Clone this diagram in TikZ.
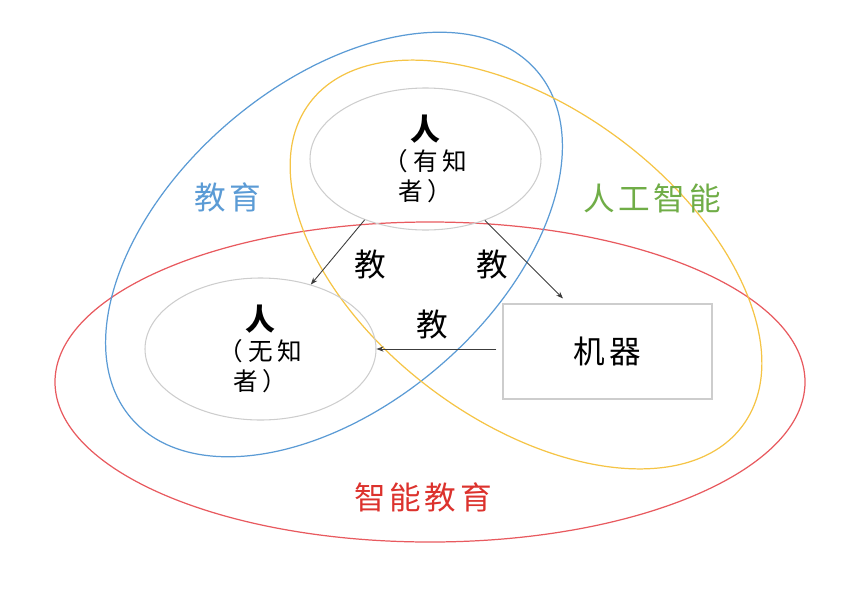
\documentclass[tikz,border=0pt]{standalone}
\usepackage{fontspec}
\usepackage{tikz}
\usetikzlibrary{shapes.geometric,arrows.meta,positioning,calc}
\newfontfamily\cjktag[LetterSpace=12]{Noto Sans CJK SC}
\newfontfamily\cjkloose[LetterSpace=20]{Noto Sans CJK SC}
\definecolor{edublue}{RGB}{91,155,213}
\definecolor{aigold}{RGB}{245,196,70}
\definecolor{smartred}{RGB}{232,90,95}
\definecolor{smarttext}{RGB}{220,50,45}
\definecolor{aigreen}{RGB}{112,173,71}
\definecolor{ringgray}{RGB}{205,205,205}
\definecolor{arrowgray}{RGB}{60,60,60}

\begin{document}
\begin{tikzpicture}[
    zone/.style={line width=0.7pt},
    bubble/.style={draw=ringgray,ellipse,line width=0.6pt,
                minimum width=4.62cm,minimum height=2.84cm,inner sep=0pt,
                align=center,font=\cjkloose\fontsize{14}{17}\selectfont},
    machine/.style={draw=ringgray,line width=0.6pt,
                minimum width=4.18cm,minimum height=1.9cm,
                font=\cjktag\fontsize{18}{20}\selectfont},
    arr/.style={-{Stealth[length=4pt,width=3pt]},line width=0.5pt,color=arrowgray},
    tag/.style={font=\cjktag\fontsize{18}{20}\selectfont}
  ]
    \useasboundingbox (0,0) rectangle (17.3,12.08);
    % the three fields
    \draw[zone,smartred] (8.6,4.44) ellipse [x radius=7.5cm,y radius=3.2cm];
    \draw[zone,edublue,rotate around={40.5:(6.68,7.19)}] (6.68,7.19)
        ellipse [x radius=5.34cm,y radius=3.22cm];
    \draw[zone,aigold,rotate around={-36.7:(10.52,6.79)}] (10.52,6.79)
        ellipse [x radius=5.4cm,y radius=3.13cm];
    \node[tag,text=edublue] (edu) at (4.56,8.14) {教育};
    \node[tag,text=aigreen] (ai) at (13.04,8.12) {人工智能};
    \node[tag,text=smarttext] (smart) at (8.46,2.14) {智能教育};
    % who teaches whom
    \node[bubble] (sage) at (8.51,8.9) {{\bfseries\fontsize{17}{17}\selectfont 人}\\（有知\\者）};
    \node[bubble] (novice) at (5.21,5.1) {{\bfseries\fontsize{17}{17}\selectfont 人}\\（无知\\者）};
    \node[machine] (mach) at (12.15,5.05) {机器};
    \draw[arr] (sage.225) -- (novice.52);
    \draw[arr] (sage.-46) -- ([shift={(-0.89,0.1)}]mach.north);
    \draw[arr,shorten <=0.12cm] (mach.west|-novice.east) -- (novice.east);
    \node[tag] (t1) at (7.4,6.78) {教};
    \node[tag] (t2) at (9.84,6.78) {教};
    \node[tag] (t3) at (8.64,5.58) {教};
\end{tikzpicture}
\end{document}
